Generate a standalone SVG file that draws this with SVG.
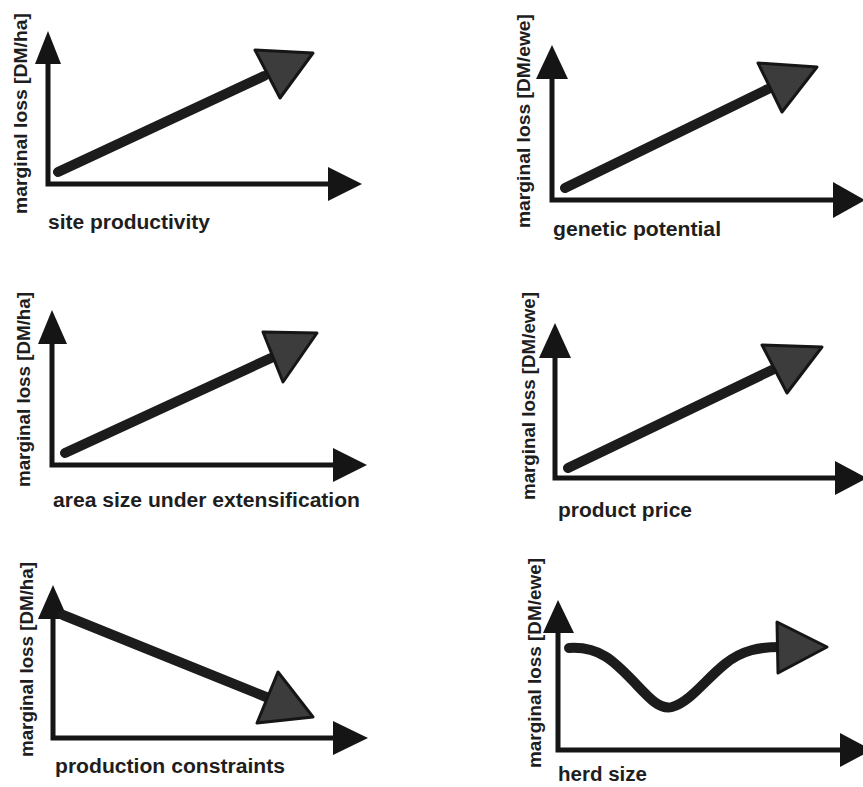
<svg xmlns="http://www.w3.org/2000/svg" width="863" height="787" viewBox="0 0 863 787">
<style>
.axis{stroke:#151515;stroke-width:5;fill:none}
.ahead{fill:#151515;stroke:none}
.trend{stroke:#1c1c1c;stroke-width:10;fill:none;stroke-linecap:round}
.thead{fill:#3c3c3c;stroke:#161616;stroke-width:3;stroke-linejoin:round}
.lbl{font-family:"Liberation Sans",Arial,sans-serif;font-weight:bold;fill:#1e1e1e}
.xl{font-size:20px}
.yl{font-size:19px}
</style>
<rect width="863" height="787" fill="#ffffff"/>

<g id="panel1">
  <g id="p1-axes">
    <path class="axis" d="M48,64 V184 H330"/>
    <polygon class="ahead" points="48,31 35,64 61,64"/>
    <polygon class="ahead" points="328,167 362,184 328,201"/>
  </g>
  <g id="p1-trend">
    <line class="trend" x1="58" y1="172" x2="264" y2="76"/>
    <polygon class="thead" points="255,50 313,53 280,98"/>
  </g>
  <text class="lbl yl" transform="translate(27,214) rotate(-90)" textLength="201" lengthAdjust="spacingAndGlyphs">marginal loss [DM/ha]</text>
  <text class="lbl xl" x="48" y="229" textLength="162" lengthAdjust="spacingAndGlyphs">site productivity</text>
</g>

<g id="panel2">
  <g id="p2-axes">
    <path class="axis" d="M552,78 V200 H835"/>
    <polygon class="ahead" points="552,45 536,79 568,79"/>
    <polygon class="ahead" points="833,182 865,200 833,218"/>
  </g>
  <g id="p2-trend">
    <line class="trend" x1="565" y1="188" x2="768" y2="89"/>
    <polygon class="thead" points="758,63 817,67 782,112"/>
  </g>
  <text class="lbl yl" transform="translate(530,228) rotate(-90)" textLength="214" lengthAdjust="spacingAndGlyphs">marginal loss [DM/ewe]</text>
  <text class="lbl xl" x="553" y="236" textLength="168" lengthAdjust="spacingAndGlyphs">genetic potential</text>
</g>

<g id="panel3">
  <g id="p3-axes">
    <path class="axis" d="M52,343 V465 H335"/>
    <polygon class="ahead" points="52,310 38,344 67,344"/>
    <polygon class="ahead" points="333,448 367,465 333,482"/>
  </g>
  <g id="p3-trend">
    <line class="trend" x1="65" y1="453" x2="271" y2="358"/>
    <polygon class="thead" points="263,332 317,333 283,382"/>
  </g>
  <text class="lbl yl" transform="translate(30,487) rotate(-90)" textLength="195" lengthAdjust="spacingAndGlyphs">marginal loss [DM/ha]</text>
  <text class="lbl xl" x="53" y="507" textLength="307" lengthAdjust="spacingAndGlyphs">area size under extensification</text>
</g>

<g id="panel4">
  <g id="p4-axes">
    <path class="axis" d="M555,357 V478 H837"/>
    <polygon class="ahead" points="555,323 539,358 571,358"/>
    <polygon class="ahead" points="835,461 867,478 835,495"/>
  </g>
  <g id="p4-trend">
    <line class="trend" x1="568" y1="468" x2="772" y2="370"/>
    <polygon class="thead" points="762,345 822,347 787,393"/>
  </g>
  <text class="lbl yl" transform="translate(535,500) rotate(-90)" textLength="208" lengthAdjust="spacingAndGlyphs">marginal loss [DM/ewe]</text>
  <text class="lbl xl" x="558" y="517" textLength="134" lengthAdjust="spacingAndGlyphs">product price</text>
</g>

<g id="panel5">
  <g id="p5-axes">
    <path class="axis" d="M53,618 V738 H335"/>
    <polygon class="ahead" points="53,585 38,619 68,619"/>
    <polygon class="ahead" points="333,721 368,738 333,755"/>
  </g>
  <g id="p5-trend">
    <line class="trend" x1="63" y1="615" x2="266" y2="697"/>
    <polygon class="thead" points="278,672 257,723 313,717"/>
  </g>
  <text class="lbl yl" transform="translate(33,757) rotate(-90)" textLength="195" lengthAdjust="spacingAndGlyphs">marginal loss [DM/ha]</text>
  <text class="lbl xl" x="55" y="773" textLength="230" lengthAdjust="spacingAndGlyphs">production constraints</text>
</g>

<g id="panel6">
  <g id="p6-axes">
    <path class="axis" d="M558,632 V750 H842"/>
    <polygon class="ahead" points="558,600 543,633 574,633"/>
    <polygon class="ahead" points="840,733 872,750 840,767"/>
  </g>
  <g id="p6-trend">
    <path class="trend" d="M569,648 C600,646 615,662 635,683 C650,699 660,710 672,707 C690,702 705,680 725,664 C742,650 760,647 780,647"/>
    <polygon class="thead" points="777,622 827,647 778,673"/>
  </g>
  <text class="lbl yl" transform="translate(541,768) rotate(-90)" textLength="210" lengthAdjust="spacingAndGlyphs">marginal loss [DM/ewe]</text>
  <text class="lbl xl" x="558" y="781" textLength="89" lengthAdjust="spacingAndGlyphs">herd size</text>
</g>
</svg>
